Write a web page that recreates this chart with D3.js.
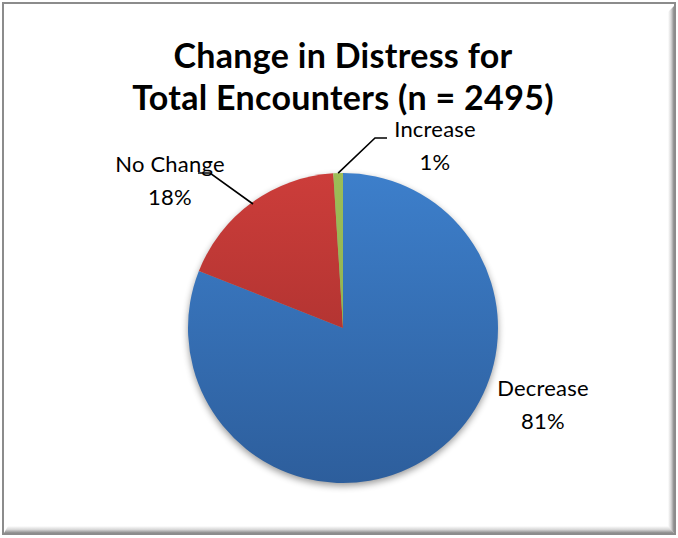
<!DOCTYPE html>
<html>
<head>
<meta charset="utf-8">
<script src="https://cdn.jsdelivr.net/npm/d3@7"></script>
<style>
  html, body { margin: 0; padding: 0; background: #fff; }
  svg { display: block; }
</style>
</head>
<body>
<svg id="chart" width="678" height="538"></svg>
<script>
// Distress outcome shares (percent of encounters)
const categories = ["Decrease", "No Change", "Increase"];
const shares = [81, 18, 1];
const titleLines = ["Change in Distress for", "Total Encounters (n = 2495)"];

const W = 678, H = 538;
const cx = 343, cy = 328, R = 155;
const font = "Lato, 'Open Sans', sans-serif";

const svg = d3.select("#chart");
const defs = svg.append("defs");

// bevelled frame gradients
function linGrad(id, x1, y1, x2, y2, stops) {
  const g = defs.append("linearGradient").attr("id", id)
    .attr("x1", x1).attr("y1", y1).attr("x2", x2).attr("y2", y2);
  stops.forEach(s => g.append("stop").attr("offset", s[0]).attr("stop-color", s[1]));
}
linGrad("bevR", 0, 0, 1, 0, [[0, "#ffffff"], [0.5, "#d8d8d8"], [1, "#8a8a8a"]]);
linGrad("bevB", 0, 0, 0, 1, [[0, "#ffffff"], [0.5, "#d8d8d8"], [1, "#8a8a8a"]]);

// slice gradients, top to bottom of the pie
const sliceFill = {
  "Decrease": ["#3d7fcb", "#2d5e9c"],
  "No Change": ["#cc3d3a", "#9c2c2a"],
  "Increase": ["#9cbd57", "#8aaa48"]
};
categories.forEach((c, i) => {
  const g = defs.append("linearGradient").attr("id", "sf" + i)
    .attr("gradientUnits", "userSpaceOnUse")
    .attr("x1", 0).attr("y1", -R).attr("x2", 0).attr("y2", R);
  g.append("stop").attr("offset", 0).attr("stop-color", sliceFill[c][0]);
  g.append("stop").attr("offset", 1).attr("stop-color", sliceFill[c][1]);
});

const shadow = defs.append("filter").attr("id", "pieShadow")
  .attr("x", "-20%").attr("y", "-20%").attr("width", "140%").attr("height", "140%");
shadow.append("feGaussianBlur").attr("stdDeviation", 3.5);

// frame
svg.append("rect").attr("x", 0).attr("y", 0).attr("width", W).attr("height", H).attr("fill", "#fff");
svg.append("rect").attr("x", 3).attr("y", 3).attr("width", 672).attr("height", 531)
  .attr("fill", "#fff").attr("stroke", "#8c8c8c").attr("stroke-width", 2);
svg.append("path").attr("d", "M668,12 L674,6 L674,533 L668,527 Z").attr("fill", "url(#bevR)");
svg.append("path").attr("d", "M8,526 L668,526 L674,533 L4,533 Z").attr("fill", "url(#bevB)");

// title
const title = svg.append("text").attr("text-anchor", "middle")
  .attr("font-family", font).attr("font-weight", "bold").attr("font-size", 34)
  .attr("letter-spacing", 0.3).attr("fill", "#000");
titleLines.forEach((t, i) => {
  title.append("tspan").attr("x", cx).attr("y", 68 + i * 42).text(t);
});

// pie
const pie = d3.pie().sort(null).value(d => d.v);
const arcs = pie(categories.map((c, i) => ({ c, v: shares[i], i })));
const arc = d3.arc().innerRadius(0).outerRadius(R);

const gPie = svg.append("g").attr("transform", `translate(${cx},${cy})`);
gPie.append("circle").attr("cx", 0).attr("cy", 3).attr("r", R)
  .attr("fill", "#000").attr("opacity", 0.4).attr("filter", "url(#pieShadow)");
gPie.selectAll("path.slice").data(arcs).join("path")
  .attr("class", "slice")
  .attr("d", arc)
  .attr("fill", d => `url(#sf${d.data.i})`);

// labels and leader lines
const labels = svg.append("g").attr("font-family", font).attr("font-size", 22)
  .attr("letter-spacing", 0.2).attr("fill", "#000");
function label(x, y, name, pct) {
  const t = labels.append("text").attr("text-anchor", "middle");
  t.append("tspan").attr("x", x).attr("y", y).text(name);
  t.append("tspan").attr("x", x).attr("y", y + 33).text(pct + "%");
}
const pos = {
  "Decrease": [543, 396],
  "No Change": [170, 172],
  "Increase": [435, 137]
};
arcs.forEach(d => label(pos[d.data.c][0], pos[d.data.c][1], d.data.c, d.data.v));

function edgePoint(d) {
  const a = (d.startAngle + d.endAngle) / 2;
  return [cx + R * Math.sin(a), cy - R * Math.cos(a)];
}
const lineG = svg.append("g").attr("fill", "none").attr("stroke", "#000").attr("stroke-width", 1.6);
const incP = edgePoint(arcs[2]);
lineG.append("path").attr("d", `M${incP[0]},${incP[1]} L375,138 L387,138`);
lineG.append("path").attr("d", `M253,204 L210,173 L198,173`);
</script>
</body>
</html>
